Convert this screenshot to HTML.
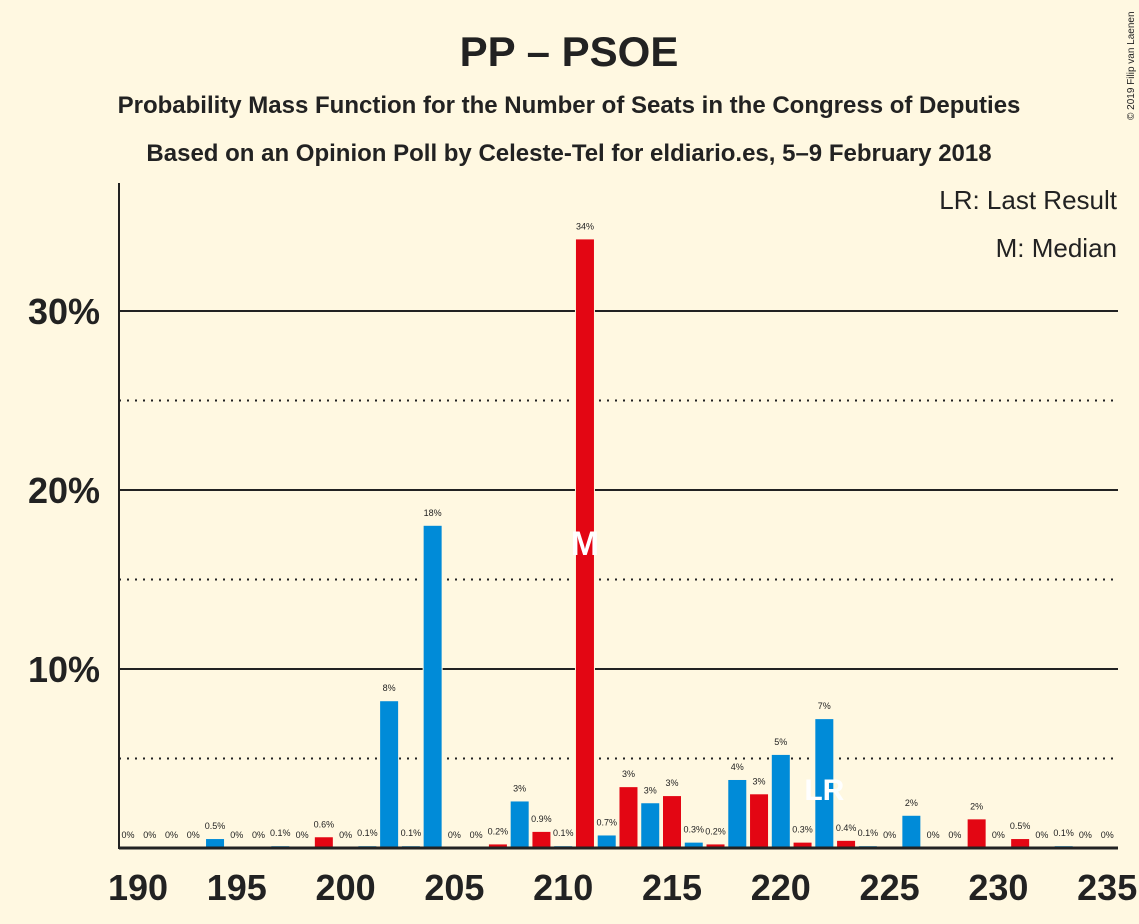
<!DOCTYPE html>
<html><head><meta charset="utf-8"><style>
body{margin:0;background:#FFF8E1;}
svg{display:block;font-family:"Liberation Sans",sans-serif;}
</style></head><body>
<svg id="c" width="1139" height="924">
<rect width="1139" height="924" fill="#FFF8E1"/>
<text x="569" y="66" text-anchor="middle" font-size="42" font-weight="bold" fill="#222">PP – PSOE</text>
<text x="569" y="113" text-anchor="middle" font-size="24" font-weight="bold" fill="#222">Probability Mass Function for the Number of Seats in the Congress of Deputies</text>
<text x="569" y="161" text-anchor="middle" font-size="24" font-weight="bold" fill="#222">Based on an Opinion Poll by Celeste-Tel for eldiario.es, 5–9 February 2018</text>
<text x="1134" y="120" font-size="10" fill="#222" transform="rotate(-90 1134 120)">© 2019 Filip van Laenen</text>
<text x="1117" y="209" text-anchor="end" font-size="26" fill="#222">LR: Last Result</text>
<text x="1117" y="257" text-anchor="end" font-size="26" fill="#222">M: Median</text>
<g id="grid"></g><g id="lbg"></g><g id="bars"></g><g id="lbl"></g><g id="axes"></g>
</svg>
<script>
const seats=[190,191,192,193,194,195,196,197,198,199,200,201,202,203,204,205,206,207,208,209,210,211,212,213,214,215,216,217,218,219,220,221,222,223,224,225,226,227,228,229,230,231,232,233,234,235];
const probs=[0,0,0,0,0.5,0,0,0.1,0,0.6,0,0.1,8.2,0.1,18,0,0,0.2,2.6,0.9,0.1,34,0.7,3.4,2.5,2.9,0.3,0.2,3.8,3.0,5.2,0.3,7.2,0.4,0.1,0,1.8,0,0,1.6,0,0.5,0,0.1,0,0];
const labels=["0%","0%","0%","0%","0.5%","0%","0%","0.1%","0%","0.6%","0%","0.1%","8%","0.1%","18%","0%","0%","0.2%","3%","0.9%","0.1%","34%","0.7%","3%","3%","3%","0.3%","0.2%","4%","3%","5%","0.3%","7%","0.4%","0.1%","0%","2%","0%","0%","2%","0%","0.5%","0%","0.1%","0%","0%"];
const redSeats=[199,207,209,211,213,215,217,219,221,223,229,231];
const yTicks=[10,20,30];const yMinor=[5,15,25];
const xTicks=[190,195,200,205,210,215,220,225,230,235];
const median=211,lastResult=222;
const NS="http://www.w3.org/2000/svg";
const X=s=>128+(s-190)*21.76, Y=p=>848-p*17.9;
function mk(t,a,parent){const e=document.createElementNS(NS,t);for(const k in a)e.setAttribute(k,a[k]);parent.appendChild(e);return e;}
const grid=document.getElementById('grid'),lbg=document.getElementById('lbg'),bars=document.getElementById('bars'),lbl=document.getElementById('lbl'),axes=document.getElementById('axes');
yMinor.forEach(v=>{const l=mk('line',{x1:119,x2:1118,y1:Y(v),y2:Y(v),stroke:'#222','stroke-width':2,'stroke-dasharray':'2,6'},grid);

});
yTicks.forEach(v=>{const l=mk('line',{x1:119,x2:1118,y1:Y(v),y2:Y(v),stroke:'#222','stroke-width':2},grid);


const t=mk('text',{x:100,y:Y(v)+13,'text-anchor':'end','font-size':36,'font-weight':'bold',fill:'#222'},axes);t.textContent=v+'%';

});
seats.forEach((s,i)=>{const p=probs[i],x=X(s),red=redSeats.includes(s);
const w=labels[i].length*5+4;
const lt=mk('rect',{x:x-w/2,y:Y(p)-20,width:w,height:13,fill:'#FFF8E1'},lbg);


if(p>0){const r=mk('rect',{x:x-10,y:Y(p)-1,width:20,height:848-Y(p)+1,fill:'#FFF8E1'},bars);


const b=mk('rect',{x:x-9,y:Y(p),width:18,height:848-Y(p),fill:red?'#E30613':'#008BD8'},bars);

}
const t=mk('text',{x:x,y:Y(p)-10,'text-anchor':'middle','font-size':9,fill:'#222'},lbl);t.textContent=labels[i];

});
const m=mk('text',{x:X(median),y:555,'text-anchor':'middle','font-size':34,'font-weight':'bold',fill:'#fff'},lbl);m.textContent='M';


const lr=mk('text',{x:X(lastResult),y:800,'text-anchor':'middle','font-size':30,'font-weight':'bold',fill:'#fff'},lbl);lr.textContent='LR';


const ya=mk('line',{x1:119,x2:119,y1:183,y2:849,stroke:'#222','stroke-width':2},axes);


const xa=mk('line',{x1:119,x2:1118,y1:848,y2:848,stroke:'#222','stroke-width':3},axes);


xTicks.forEach(v=>{const t=mk('text',{x:X(v)+(v===190?10:0),y:900,'text-anchor':'middle','font-size':36,'font-weight':'bold',fill:'#222'},axes);t.textContent=v;

});
</script>
</body></html>
